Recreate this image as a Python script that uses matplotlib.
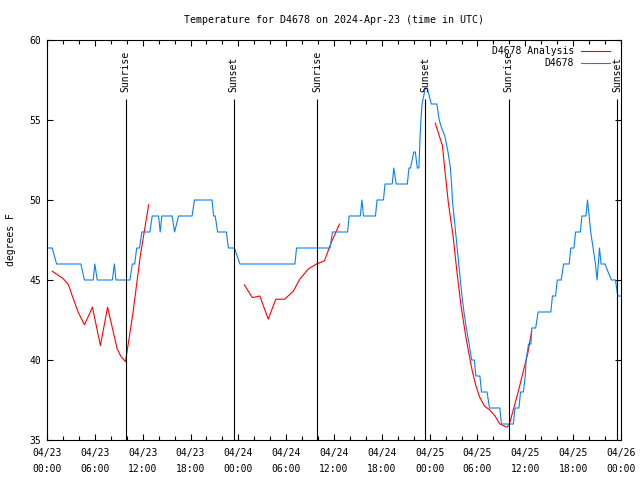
"""
Observed vs analysed temperature for station D4678, 2024-04-23 .. 04-26 (UTC).
"""

import numpy as np
import matplotlib
matplotlib.use("Agg")
import matplotlib.pyplot as plt
from matplotlib.ticker import FixedLocator, MultipleLocator

# hours after 2024-04-23 00:00 UTC
obs_hours = [
    0.15, 0.65, 1.2, 4.25, 4.7, 5.8, 6.0, 6.3, 8.2, 8.45, 8.65, 10.4, 10.7, 11.0,
    11.25, 11.6, 11.9, 12.9, 13.2, 14.0, 14.2, 14.4, 15.7, 16.0, 16.5, 18.2, 18.5,
    20.7, 20.9, 21.1, 21.4, 22.5, 22.75, 23.5, 24.2, 31.1, 31.3, 35.5, 35.8, 37.7,
    37.9, 39.3, 39.5, 39.7, 41.2, 41.4, 42.2, 42.4, 43.3, 43.5, 43.8, 45.2, 45.4,
    45.6, 46.0, 46.2, 46.45, 46.65, 46.8, 46.9, 47.05, 47.45, 47.7, 48.2, 48.9,
    49.2, 49.5, 49.9, 50.3, 50.6, 50.75, 50.85, 51.05, 51.25, 51.45, 51.65, 51.85,
    52.05, 52.3, 52.6, 52.95, 53.27, 53.6, 53.8, 54.3, 54.5, 55.2, 55.5, 56.8,
    57.0, 58.5, 58.7, 59.2, 59.4, 59.75, 60.0,
    60.1, 60.4, 60.7, 60.8, 61.3, 61.6, 63.2, 63.4, 63.8, 64.0, 64.5, 64.8, 65.5,
    65.7, 66.1, 66.3, 66.9, 67.1, 67.6, 67.8, 68.0, 68.2, 68.5, 68.8, 69.0, 69.3,
    69.5, 70.0, 70.3, 70.8, 71.3, 71.6, 72.0,
]
obs_temps = [
    47, 47, 46, 46, 45, 45, 46, 45, 45, 46, 45, 45, 46, 46,
    47, 47, 48, 48, 49, 49, 48, 49, 49, 48, 49, 49, 50,
    50, 49, 49, 48, 48, 47, 47, 46, 46, 47, 47, 48, 48,
    49, 49, 50, 49, 49, 50, 50, 51, 51, 52, 51, 51, 52,
    52, 53, 53, 52, 52, 54, 55, 56, 57, 57, 56, 56,
    55, 54.5, 54, 53, 52, 51, 50, 49, 48, 47, 46, 45,
    44, 43, 42, 41, 40, 40, 39, 39, 38, 38, 37, 37,
    36, 36, 37, 37, 38, 38, 39,
    40, 41, 41, 42, 42, 43, 43, 44, 44, 45, 45, 46, 46,
    47, 47, 48, 48, 49, 49, 50, 49, 48, 47, 46, 45, 47,
    46, 46, 45.6, 45, 45, 44, 44,
]

# analysis runs, NaN separates the three runs
ana_hours = [
    0.65, 1.4, 2.0, 2.7, 3.1, 3.9, 4.7, 5.7, 6.7, 7.6, 8.8, 9.3, 9.85, 10.8, 11.7, 12.75,
    np.nan,
    24.75, 25.75, 26.7, 27.75, 28.7, 29.8, 30.9, 31.7, 32.8, 33.8, 34.8, 35.7, 36.7,
    np.nan,
    48.7, 49.6, 49.9, 50.35, 50.95, 51.4, 51.9, 52.55, 53.0, 53.35, 53.8, 54.25,
    54.9, 55.5, 56.2, 56.8, 57.7, 58.0, 58.5, 59.1, 59.7, 60.3, 60.8,
]
ana_temps = [
    45.55, 45.3, 45.1, 44.7, 44.1, 43.0, 42.2, 43.3, 40.9, 43.3, 40.7, 40.2, 39.9, 43.0, 46.5, 49.7,
    np.nan,
    44.7, 43.9, 44.0, 42.55, 43.8, 43.8, 44.3, 45.05, 45.7, 46.0, 46.2, 47.4, 48.5,
    np.nan,
    54.8, 53.4, 51.9, 49.8, 47.7, 45.6, 43.5, 41.4, 40.2, 39.3, 38.4, 37.7,
    37.1, 36.9, 36.5, 36.0, 35.8, 36.0, 36.9, 38.0, 39.2, 40.4, 41.8,
]

event_hours = [9.85, 23.4, 33.9, 47.45, 57.9, 71.55]
event_labels = ["Sunrise", "Sunset", "Sunrise", "Sunset", "Sunrise", "Sunset"]

tick_hours = list(range(0, 73, 6))
tick_labels = [
    "04/23\n00:00", "04/23\n06:00", "04/23\n12:00", "04/23\n18:00",
    "04/24\n00:00", "04/24\n06:00", "04/24\n12:00", "04/24\n18:00",
    "04/25\n00:00", "04/25\n06:00", "04/25\n12:00", "04/25\n18:00",
    "04/26\n00:00",
]

plt.rcParams["font.family"] = ["DejaVu Sans Mono"]
plt.rcParams["font.size"] = 7

fig = plt.figure(figsize=(6.4, 4.8), dpi=100)
ax = fig.add_axes([47 / 640, 40 / 480, 574 / 640, 400 / 480])

ax.plot(ana_hours, ana_temps, color="#ff0000", lw=0.8, label="D4678 Analysis")
ax.plot(obs_hours, obs_temps, color="#0a80f5", lw=0.8, label="D4678")

line_top = 56.3
ax.vlines(event_hours, 35, line_top, color="black", lw=0.8)
for h, lab in zip(event_hours, event_labels):
    ax.text(h, line_top + 0.45, lab, rotation=90, ha="center", va="bottom",
            clip_on=False)

ax.set_xlim(0, 72)
ax.set_ylim(35, 60)
ax.xaxis.set_major_locator(FixedLocator(tick_hours))
ax.set_xticklabels(tick_labels)
ax.xaxis.set_minor_locator(MultipleLocator(2))
ax.yaxis.set_major_locator(MultipleLocator(5))
ax.tick_params(which="both", direction="in", top=True, right=True,
               width=0.8, color="black")
ax.tick_params(which="major", length=4)
ax.tick_params(which="minor", length=3)
ax.tick_params(axis="x", pad=5.5)
ax.tick_params(axis="y", pad=4.5)
for lbl in ax.get_xticklabels():
    lbl.set_linespacing(1.75)
for sp in ax.spines.values():
    sp.set_linewidth(0.8)

ax.set_title("Temperature for D4678 on 2024-Apr-23 (time in UTC)",
             fontsize=7.2, pad=12)
fig.text(11 / 640, 0.5, "degrees F", rotation=90, ha="center", va="center")

ax.legend(loc="upper right", bbox_to_anchor=(610 / 640, 434 / 480),
          bbox_transform=fig.transFigure, frameon=False, markerfirst=False,
          borderpad=0, borderaxespad=0, handlelength=3.0, handletextpad=0.7,
          labelspacing=0.2)

fig.savefig("out.png", dpi=100)
